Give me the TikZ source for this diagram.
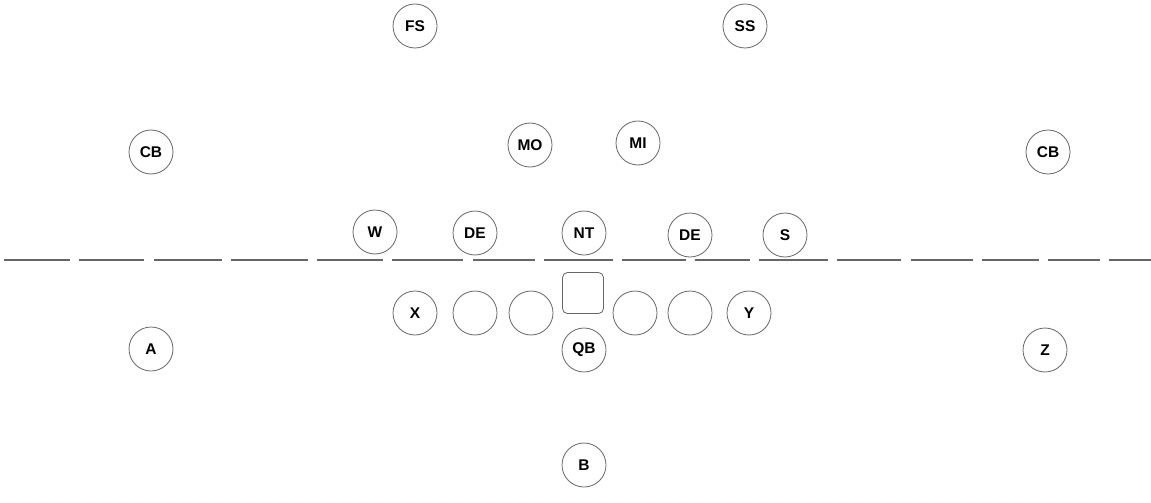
\documentclass[tikz,border=0pt]{standalone}
\usepackage{fontspec}
\setmainfont{Liberation Sans}
\begin{document}
\begin{tikzpicture}[x=1pt,y=-1pt,
  player/.style={circle,draw=black!60,line width=0.8pt,minimum size=44pt,inner sep=0pt,font=\fontsize{15.5}{17}\selectfont\bfseries},
  center/.style={rectangle,rounded corners=5pt,draw=black!60,line width=0.8pt,minimum size=41pt,inner sep=0pt},
  los/.style={draw=black!60,line width=2pt}]
\useasboundingbox (0,0) rectangle (1151,503);
% line of scrimmage
\foreach \a/\b [count=\i] in {4/70,79/144,154/222,231/308,317/383,392/463,473/535,544/613,622/686,695/750,759/828,837/901,911/973,982/1039,1048/1100,1109/1151}{
  \coordinate (l\i a) at (\a,260);
  \coordinate (l\i b) at (\b,260);
  \draw[los] (l\i a) -- (l\i b);
}
% defense
\node[player] (fs) at (415,26) {FS};
\node[player] (ss) at (745,26) {SS};
\node[player] (cbl) at (151,152) {CB};
\node[player] (cbr) at (1048,152) {CB};
\node[player] (mo) at (530,145) {MO};
\node[player] (mi) at (638,143) {MI};
\node[player] (w) at (375,232) {W};
\node[player] (del) at (475,233) {DE};
\node[player] (nt) at (584,233) {NT};
\node[player] (der) at (690,235) {DE};
\node[player] (s) at (785,235) {S};
% offense
\node[player] (x) at (415,313) {X};
\node[player] (ol1) at (475,313) {};
\node[player] (ol2) at (531,313) {};
\node[center] (c) at (583,293) {};
\node[player] (ol3) at (635,313) {};
\node[player] (ol4) at (690,313) {};
\node[player] (y) at (749,313) {Y};
\node[player] (qb) at (584,350) {QB};
\node[player] (a) at (151,349) {A};
\node[player] (z) at (1045,350) {Z};
\node[player] (b) at (584,465) {B};
\end{tikzpicture}
\end{document}
